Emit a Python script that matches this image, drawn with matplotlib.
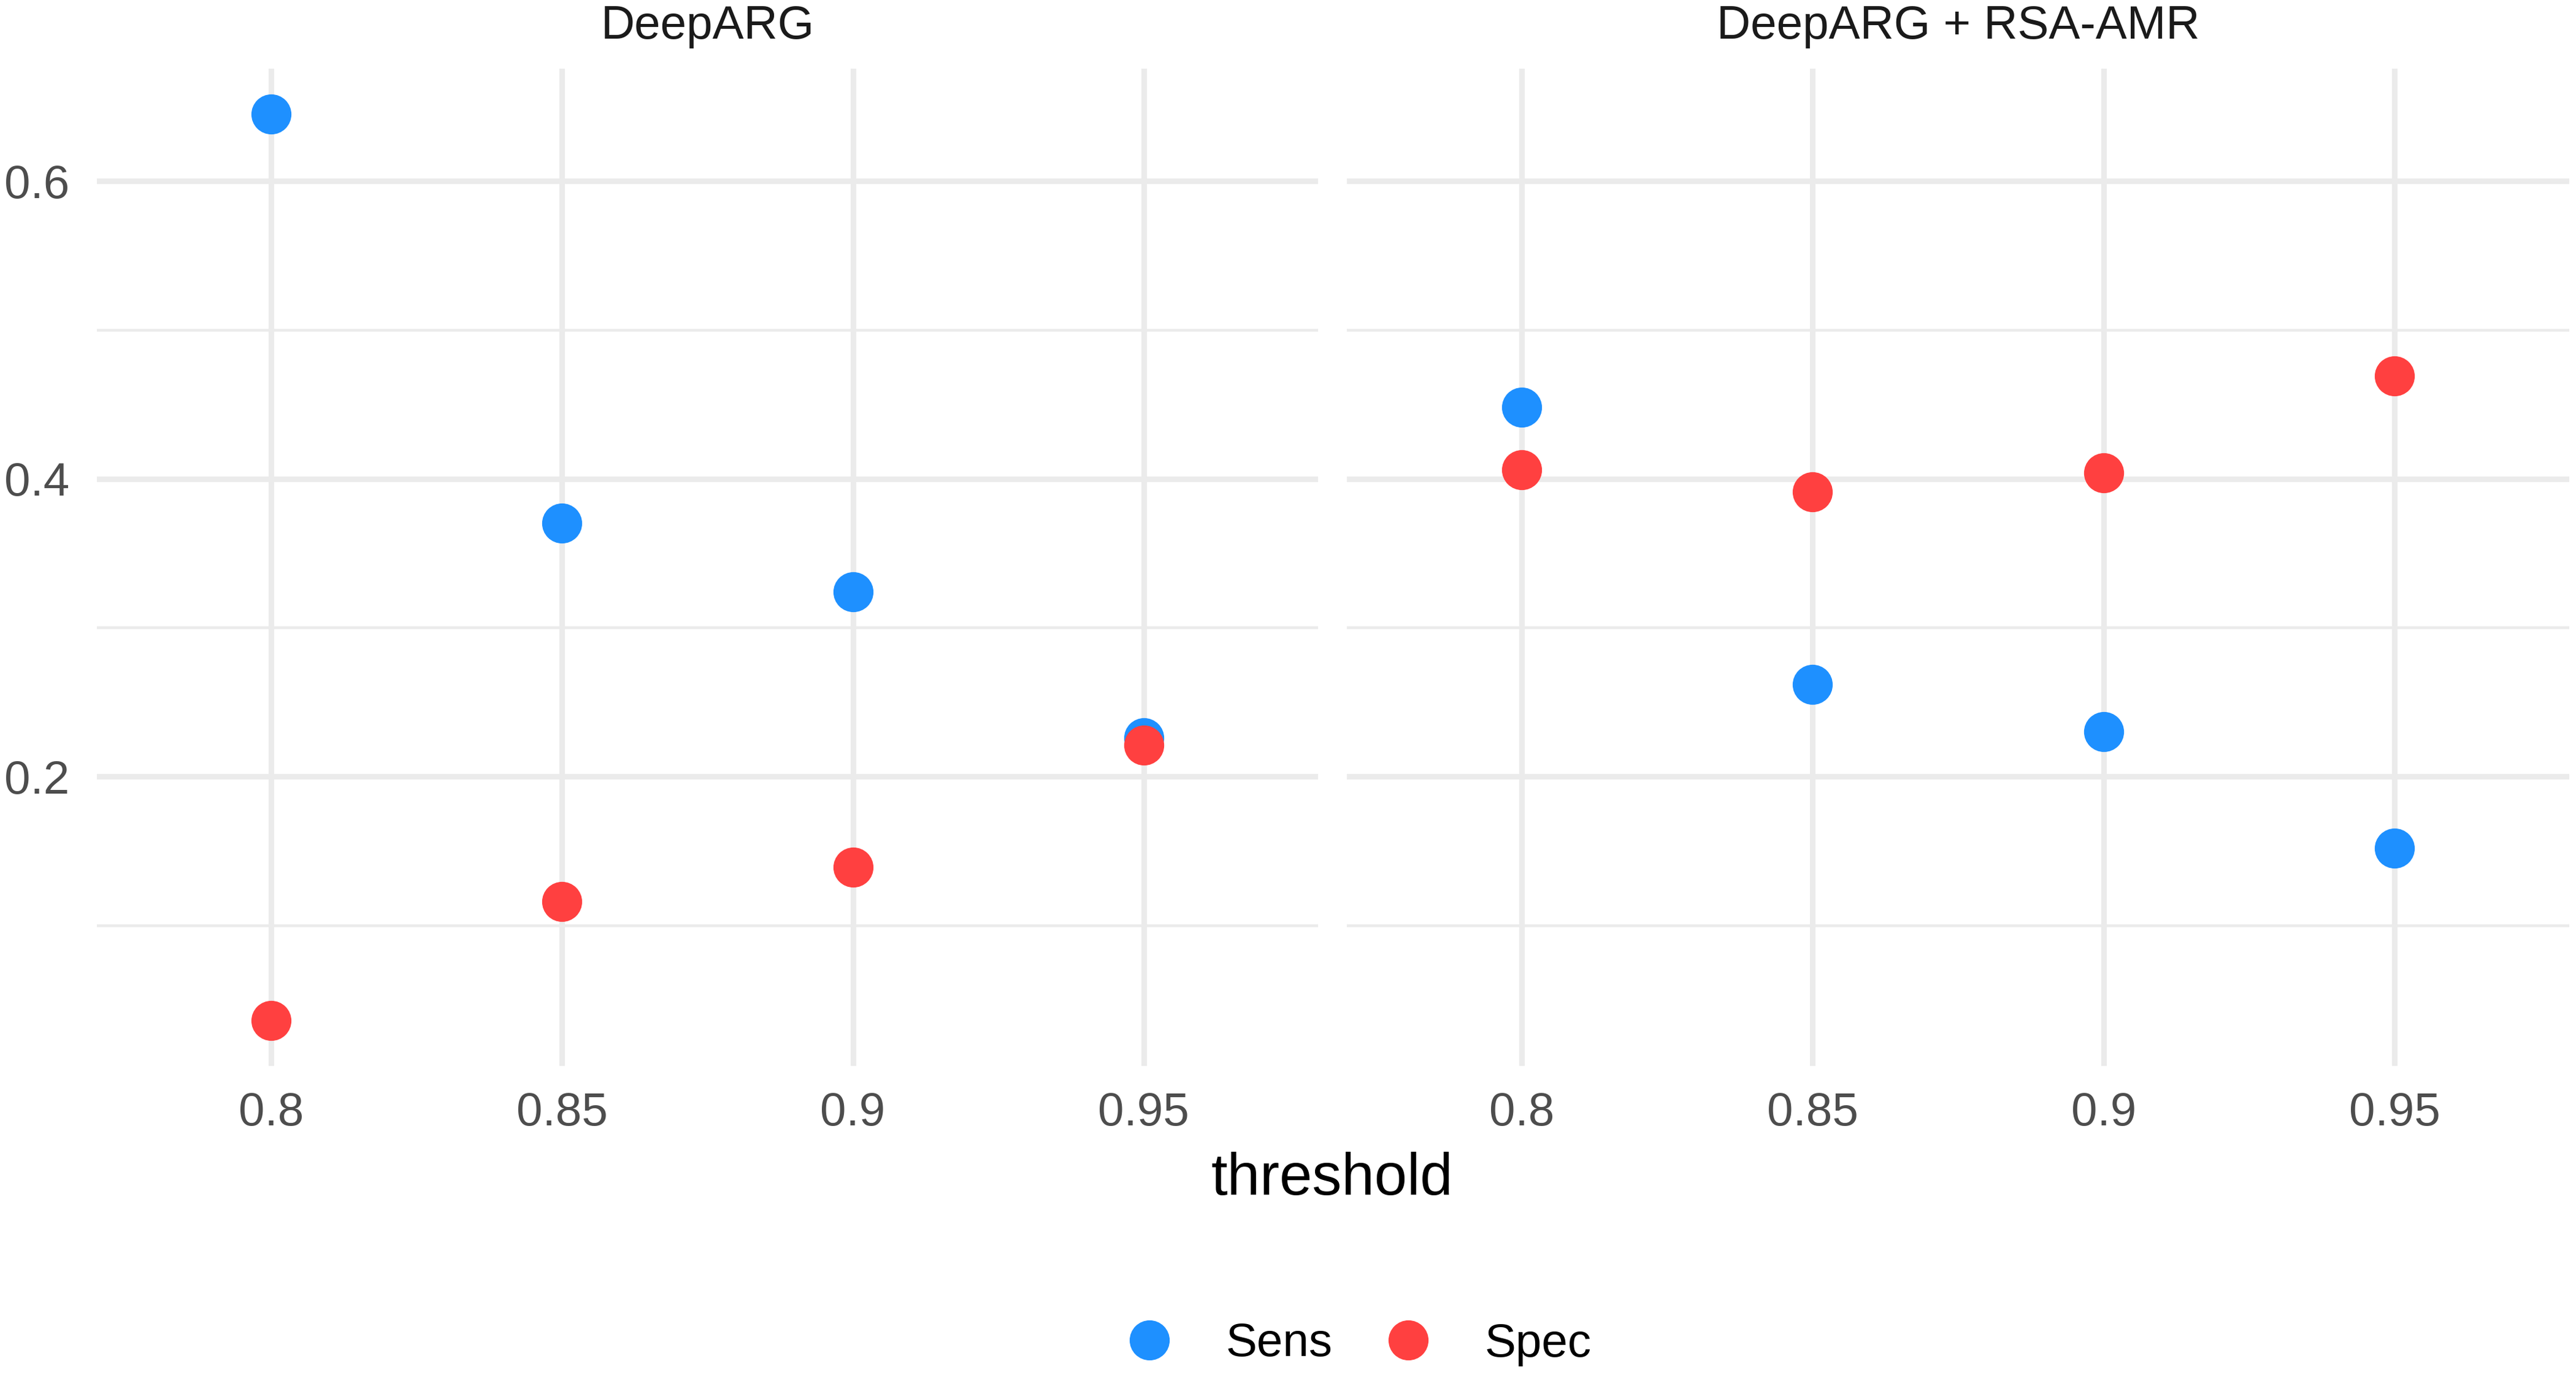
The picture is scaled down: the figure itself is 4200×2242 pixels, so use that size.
import numpy as np
import matplotlib
matplotlib.use("Agg")
import matplotlib.pyplot as plt
from matplotlib.lines import Line2D

plt.rcParams['font.family'] = ['Liberation Sans', 'DejaVu Sans']

# data
thresholds = ['0.8', '0.85', '0.9', '0.95']
panels = ['DeepARG', 'DeepARG + RSA-AMR']
sens_deeparg = [0.645, 0.370, 0.324, 0.226]
spec_deeparg = [0.036, 0.116, 0.139, 0.221]
sens_rsa = [0.448, 0.262, 0.230, 0.152]
spec_rsa = [0.406, 0.391, 0.404, 0.469]

sens_color = '#1E90FF'
spec_color = '#FF4040'
grid_color = '#EBEBEB'

W, H = 4200, 2242
fig = plt.figure(figsize=(W / 100, H / 100), dpi=100, facecolor='white')

top, bottom = 112, 1738
ax1 = fig.add_axes([158 / W, 1 - bottom / H, (2149 - 158) / W, (bottom - top) / H])
ax2 = fig.add_axes([2196 / W, 1 - bottom / H, (4189 - 2196) / W, (bottom - top) / H])

allv = np.array(sens_deeparg + spec_deeparg + sens_rsa + spec_rsa)
pad = 0.05 * (allv.max() - allv.min())
ylo, yhi = allv.min() - pad, allv.max() + pad

x = np.arange(len(thresholds))
data = [(sens_deeparg, spec_deeparg), (sens_rsa, spec_rsa)]

for i, (ax, (sens, spec), name) in enumerate(zip([ax1, ax2], data, panels)):
    ax.set_xlim(-0.6, len(thresholds) - 0.4)
    ax.set_ylim(ylo, yhi)
    for s in ax.spines.values():
        s.set_visible(False)
    ax.set_xticks(x)
    ax.set_xticklabels(thresholds)
    ax.set_yticks([0.2, 0.4, 0.6])
    ax.set_yticks([0.1, 0.3, 0.5], minor=True)
    ax.set_yticklabels(['0.2', '0.4', '0.6'] if i == 0 else [])
    ax.tick_params(axis='both', which='both', length=0, labelsize=55, labelcolor='#4D4D4D')
    ax.tick_params(axis='x', pad=30)
    ax.tick_params(axis='y', pad=32)
    ax.grid(True, which='major', color=grid_color, lw=6.5)
    ax.grid(True, which='minor', axis='y', color=grid_color, lw=3.3)
    ax.set_axisbelow(True)
    ax.plot(x, sens, 'o', color=sens_color, ms=47, mew=0, zorder=3)
    ax.plot(x, spec, 'o', color=spec_color, ms=47, mew=0, zorder=4)
    cx = (ax.get_position().x0 + ax.get_position().x1) / 2
    fig.text(cx, 1 - 63 / H, name, ha='center', va='baseline', fontsize=55, color='#1A1A1A')

fig.text(2172 / W, 1 - 1948 / H, 'threshold', ha='center', va='baseline', fontsize=69, color='black')

handles = [Line2D([], [], ls='none', marker='o', ms=47, mew=0, color=sens_color),
           Line2D([], [], ls='none', marker='o', ms=47, mew=0, color=spec_color)]
fig.legend(handles, ['Sens', 'Spec'], loc='center', bbox_to_anchor=(2215 / W, 1 - 2192 / H),
           ncol=2, frameon=False, fontsize=55, handlelength=1.0, handletextpad=1.13,
           columnspacing=1.12, borderpad=0)

fig.savefig('out.png', dpi=100, facecolor='white')
